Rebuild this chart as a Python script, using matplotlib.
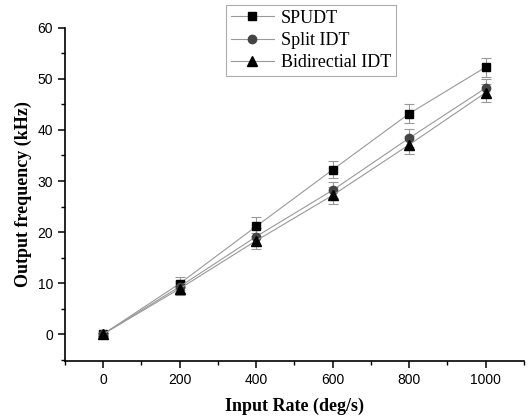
import matplotlib
matplotlib.use("Agg")
import matplotlib.pyplot as plt
from matplotlib.ticker import MultipleLocator

rate = [0, 200, 400, 600, 800, 1000]
spudt = [0.0, 9.9, 21.1, 32.2, 43.2, 52.3]
split = [0.0, 9.3, 19.1, 28.2, 38.4, 48.2]
bidir = [0.0, 8.9, 18.3, 27.2, 37.1, 47.3]
spudt_err = [0.3, 1.3, 1.8, 1.7, 1.8, 1.9]
split_err = [0.3, 1.2, 1.6, 1.6, 1.7, 1.8]
bidir_err = [0.3, 1.2, 1.6, 1.7, 1.8, 1.8]
labels = ["SPUDT", "Split IDT", "Bidirectial IDT"]

fig = plt.figure(figsize=(5.28, 4.17), dpi=100)
ax = fig.add_axes([0.123, 0.134, 0.869, 0.799])

series = [(spudt, spudt_err, "s", "black", 5.5),
          (split, split_err, "o", "#444444", 6),
          (bidir, bidir_err, "^", "black", 6.5)]
handles = []
for (y, e, m, c, ms), lab in zip(series, labels):
    ax.errorbar(rate, y, yerr=e, fmt="none", ecolor="#999999", elinewidth=0.8,
                capsize=3.5, capthick=0.8, zorder=2)
    h, = ax.plot(rate, y, color="#999999", lw=0.8, marker=m, markersize=ms,
                 markerfacecolor=c, markeredgecolor=c, label=lab, zorder=3)
    handles.append(h)

ax.set_xlim(-100, 1100)
ax.set_ylim(-5.3, 60)
ax.xaxis.set_major_locator(MultipleLocator(200))
ax.xaxis.set_minor_locator(MultipleLocator(100))
ax.yaxis.set_major_locator(MultipleLocator(10))
ax.yaxis.set_minor_locator(MultipleLocator(5))
for s in ["top", "right"]:
    ax.spines[s].set_visible(False)
for s in ["left", "bottom"]:
    ax.spines[s].set_linewidth(1.2)
ax.tick_params(which="major", length=5, width=1.1, labelsize=10)
ax.tick_params(which="minor", length=3, width=1.0)
for t in ax.get_xticklabels() + ax.get_yticklabels():
    t.set_fontfamily("Liberation Sans")

ax.set_xlabel("Input Rate (deg/s)", fontfamily="Liberation Serif",
              fontweight="bold", fontsize=13, labelpad=8)
ax.set_ylabel("Output frequency (kHz)", fontfamily="Liberation Serif",
              fontweight="bold", fontsize=13, labelpad=4)

leg = fig.legend(handles=handles, loc="upper center", bbox_to_anchor=(0.589, 0.988),
                 prop={"family": "Liberation Serif", "size": 13},
                 frameon=True, fancybox=False, handlelength=2.4,
                 borderpad=0.25, labelspacing=0.3, handletextpad=0.4,
                 borderaxespad=0)
leg.get_frame().set_edgecolor("#999999")
leg.get_frame().set_linewidth(0.8)

fig.savefig("out.png", dpi=100)
